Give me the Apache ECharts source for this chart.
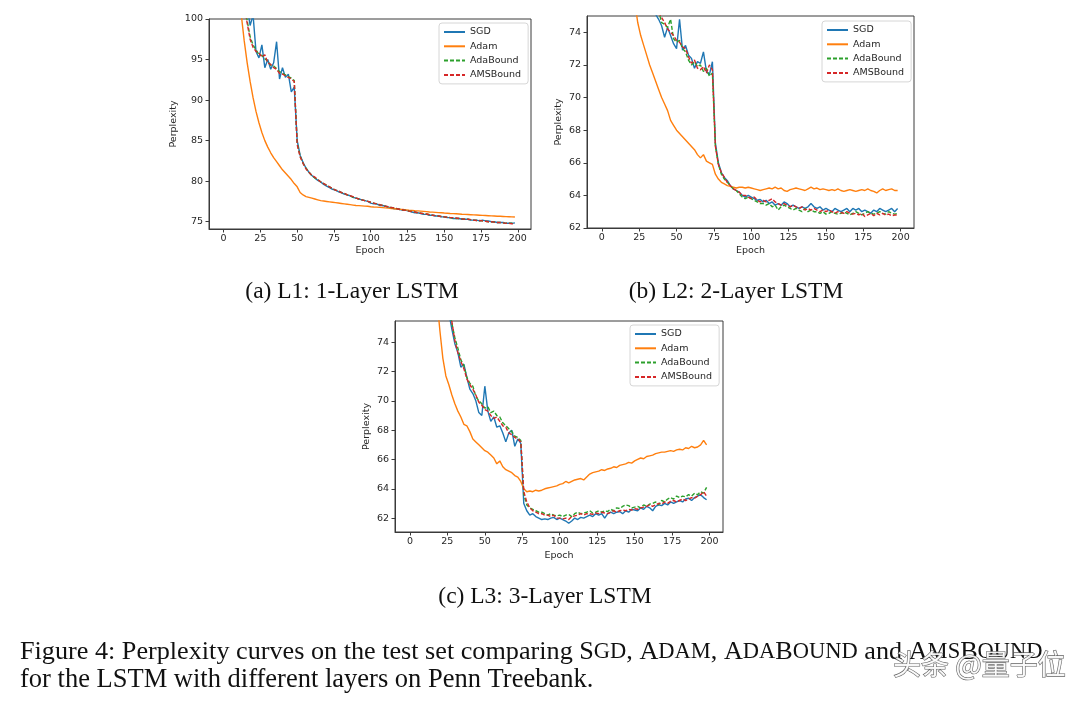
<!DOCTYPE html>
<html><head><meta charset="utf-8">
<script src="https://cdn.jsdelivr.net/npm/echarts@6/dist/echarts.min.js"></script>
<style>html,body{margin:0;padding:0;background:#fff}#c{width:1080px;height:706px}</style>
</head><body><div id="c"></div>
<script>
// ---------- DATA ----------
const epochs = [0,2,4,6,8,10,12,14,16,18,20,22,24,26,28,30,32,34,36,38,40,42,44,46,48,50,52,54,56,58,60,62,64,66,68,70,72,74,76,78,80,82,84,86,88,90,92,94,96,98,100,102,104,106,108,110,112,114,116,118,120,122,124,126,128,130,132,134,136,138,140,142,144,146,148,150,152,154,156,158,160,162,164,166,168,170,172,174,176,178,180,182,184,186,188,190,192,194,196,198];
const seriesNames = ['SGD','Adam','AdaBound','AMSBound'];
const xTicks = [0,25,50,75,100,125,150,175,200];
const yTicks1 = [75,80,85,90,95,100];
const yTicks2 = [62,64,66,68,70,72,74];
const yTicks3 = [62,64,66,68,70,72,74];
const subCaptions = ['(a) L1: 1-Layer LSTM','(b) L2: 2-Layer LSTM','(c) L3: 3-Layer LSTM'];

// L1: 1-layer LSTM
const sgd1 = [180,160,145,132,122,115,109,104,101.5,99.2,
 100.5,96.0,95.2,96.8,94.0,95.0,93.8,94.6,97.2,92.6,
 94.0,92.8,93.2,91.0,91.6,85.0,83.2,82.3,81.6,81.1,
 80.7,80.4,80.1,79.9,79.6,79.4,79.2,79.0,78.9,78.7,
 78.6,78.4,78.3,78.2,78.0,77.9,77.8,77.7,77.6,77.5,
 77.3,77.2,77.2,77.0,77.0,76.9,76.8,76.7,76.6,76.6,
 76.5,76.4,76.4,76.3,76.2,76.1,76.1,76.0,75.9,75.9,
 75.8,75.8,75.7,75.7,75.6,75.6,75.5,75.5,75.4,75.4,
 75.4,75.3,75.3,75.3,75.2,75.2,75.2,75.1,75.2,75.1,
 75.1,75.0,75.0,74.9,74.9,74.9,74.8,74.8,74.8,74.85];
const adam1 = [300,220,170,140,120,108,100.5,97.3,94.6,92.3,
 90.3,88.6,87.2,86.0,85.0,84.2,83.5,82.9,82.4,81.9,
 81.4,81.0,80.6,80.2,79.7,79.3,78.6,78.3,78.1,78.0,
 77.9,77.8,77.7,77.6,77.55,77.5,77.45,77.4,77.35,77.3,
 77.25,77.2,77.15,77.1,77.05,77.0,76.98,76.95,76.92,76.9,
 76.85,76.82,76.8,76.77,76.74,76.7,76.67,76.63,76.6,76.56,
 76.52,76.5,76.46,76.42,76.4,76.36,76.33,76.3,76.27,76.24,
 76.2,76.18,76.15,76.12,76.1,76.07,76.05,76.02,76.0,75.98,
 75.95,75.92,75.9,75.88,75.86,75.84,75.82,75.8,75.78,75.76,
 75.74,75.72,75.7,75.68,75.67,75.65,75.63,75.62,75.6,75.58];
const adab1 = [175,155,140,128,118,111,106,102,99.8,97.8,
 96.8,96.2,95.6,95.5,95.1,94.8,94.3,94.2,93.9,93.5,
 93.3,93.1,92.9,92.7,92.4,84.7,83.1,82.2,81.6,81.1,
 80.7,80.4,80.2,79.9,79.7,79.5,79.3,79.1,78.9,78.8,
 78.6,78.5,78.3,78.2,78.0,77.9,77.8,77.7,77.6,77.5,
 77.4,77.3,77.2,77.1,77.0,76.9,76.8,76.75,76.7,76.6,
 76.5,76.45,76.4,76.3,76.25,76.2,76.1,76.05,76.0,75.95,
 75.85,75.8,75.75,75.7,75.65,75.6,75.55,75.5,75.45,75.4,
 75.4,75.35,75.3,75.3,75.25,75.2,75.15,75.1,75.1,75.05,
 75.0,75.0,74.95,74.9,74.9,74.85,74.8,74.8,74.8,74.75];
const ams1 = [170,150,138,126,117,110,105,101.5,99.5,97.5,
 96.5,96.0,95.8,95.3,95.6,94.6,94.4,94.0,93.8,93.3,
 93.2,93.0,92.8,92.6,92.3,84.5,83.0,82.2,81.5,81.1,
 80.7,80.5,80.2,79.9,79.7,79.5,79.3,79.1,78.9,78.8,
 78.6,78.5,78.3,78.2,78.1,77.9,77.8,77.7,77.6,77.5,
 77.4,77.3,77.2,77.1,77.0,76.9,76.85,76.75,76.7,76.6,
 76.5,76.45,76.4,76.3,76.25,76.2,76.1,76.05,76.0,75.95,
 75.85,75.8,75.75,75.7,75.65,75.6,75.55,75.5,75.5,75.45,
 75.4,75.35,75.3,75.3,75.25,75.2,75.15,75.15,75.1,75.05,
 75.0,75.0,74.95,74.9,74.9,74.85,74.8,74.8,74.75,74.8];

// L2: 2-layer LSTM
const sgd2 = [160,140,125,112,104,98,93,89,86,83.5,
 81.5,80,78.8,77.8,77,76.4,75.9,75.5,75.1,74.8,
 74.4,73.7,74.3,73.8,73.3,73.0,74.8,72.9,73.2,72.6,
 72.4,71.8,72.2,72.1,72.8,71.6,71.4,72.2,67.2,66.0,
 65.4,65.1,64.9,64.6,64.4,64.3,64.2,64.0,63.9,64.0,
 63.9,63.8,63.7,63.75,63.6,63.7,63.5,63.6,63.4,63.5,
 63.4,63.6,63.5,63.3,63.4,63.3,63.2,63.3,63.2,63.3,
 63.5,63.3,63.2,63.3,63.1,63.2,63.1,63.0,63.2,63.1,
 63.0,63.1,63.2,63.0,63.2,63.1,63.2,63.0,63.1,63.0,
 62.9,63.1,63.0,63.2,63.1,63.0,63.1,63.2,63.0,63.2];
const adam2 = [200,150,125,110,100,93,88,84,81,79,
 77.3,75.9,74.6,73.8,73.2,72.6,72.0,71.5,71.0,70.5,
 70.0,69.6,69.2,68.6,68.3,68.0,67.8,67.6,67.4,67.2,
 67.0,66.8,66.5,66.3,66.5,66.1,66.0,65.9,65.3,65.0,
 64.8,64.7,64.6,64.55,64.5,64.45,64.5,64.5,64.45,64.5,
 64.45,64.4,64.35,64.3,64.35,64.4,64.45,64.4,64.5,64.4,
 64.45,64.3,64.25,64.35,64.4,64.45,64.4,64.35,64.3,64.4,
 64.5,64.4,64.45,64.35,64.4,64.35,64.3,64.35,64.3,64.4,
 64.3,64.25,64.3,64.35,64.3,64.25,64.3,64.35,64.3,64.4,
 64.3,64.25,64.15,64.3,64.4,64.3,64.35,64.4,64.3,64.3];
const adab2 = [170,145,128,115,106,99,94,90,87,84.5,
 82.5,81,79.7,78.6,77.7,77,76.4,75.9,75.5,75.3,
 74.6,74.5,74.3,74.8,73.6,73.4,73.5,73.0,72.8,72.3,
 72.0,72.2,71.9,72.0,71.6,71.8,71.3,71.5,67.0,65.9,
 65.3,65.0,64.8,64.6,64.4,64.3,64.1,63.9,63.8,63.9,
 63.8,63.7,63.6,63.5,63.5,63.4,63.5,63.3,63.4,63.1,
 63.3,63.4,63.3,63.2,63.1,63.2,63.1,63.0,63.2,63.0,
 63.1,63.0,63.0,62.9,63.0,62.85,62.9,63.0,62.9,62.85,
 62.9,63.0,62.9,62.8,62.9,63.0,62.9,62.8,62.9,63.0,
 62.9,62.85,62.9,63.0,62.9,62.85,63.0,62.9,62.85,62.9];
const ams2 = [168,144,127,114,105,98.5,93.5,89.5,86.5,84,
 82,80.6,79.3,78.3,77.4,76.7,76.1,75.7,75.4,75.2,
 74.9,74.6,74.2,74.0,73.8,73.5,73.4,73.1,73.0,72.5,
 72.1,72.3,71.8,71.7,71.9,71.5,72.0,71.7,67.0,65.9,
 65.4,65.1,64.8,64.6,64.4,64.3,64.2,64.0,64.0,63.9,
 63.8,63.9,63.7,63.6,63.7,63.6,63.7,63.8,63.6,63.5,
 63.4,63.5,63.4,63.3,63.4,63.3,63.2,63.3,63.1,63.2,
 63.1,63.2,63.1,63.0,63.1,63.0,63.1,63.0,62.9,63.0,
 62.95,62.9,63.0,62.9,62.85,62.9,62.8,62.9,62.7,62.8,
 62.9,62.75,62.9,62.8,62.9,62.8,62.85,62.75,62.8,62.8];

// L3: 3-layer LSTM
const sgd3 = [160,140,125,112,104,97,92,88,84.5,82,
 80,78.5,77,76,74.9,73.9,73.3,72.3,72.5,71.6,
 70.8,70.5,70.0,69.2,69.0,71.0,69.3,68.6,68.9,68.2,
 68.3,67.8,67.2,67.8,68.0,66.9,67.4,67.1,63.0,62.5,
 62.2,62.3,62.1,62.0,61.9,61.95,61.9,62.0,62.05,61.9,
 62.0,61.9,61.8,61.65,61.8,62.0,61.9,62.05,62.0,62.1,
 62.2,62.1,62.3,62.2,62.3,62.0,62.3,62.4,62.3,62.4,
 62.45,62.3,62.5,62.4,62.6,62.55,62.5,62.7,62.6,62.8,
 62.7,62.5,62.8,62.9,62.85,63.0,62.9,63.1,63.0,63.1,
 63.2,63.1,63.3,63.35,63.2,63.4,63.5,63.6,63.4,63.25];
const adam3 = [200,160,135,118,106,97,90,85,80.5,77,
 74.8,72.9,71.7,71.1,70.4,69.8,69.3,68.9,68.4,68.3,
 67.9,67.4,67.2,67.0,66.8,66.6,66.5,66.3,66.1,65.7,
 65.9,65.5,65.3,65.2,65.1,64.9,64.8,64.5,64.0,63.8,
 63.85,63.8,63.9,63.85,63.9,64.0,64.05,64.1,64.15,64.2,
 64.3,64.35,64.5,64.4,64.5,64.6,64.65,64.7,64.6,64.8,
 65.0,65.1,65.15,65.2,65.3,65.25,65.35,65.4,65.5,65.45,
 65.6,65.65,65.7,65.8,65.75,65.9,66.0,66.1,66.05,66.2,
 66.25,66.3,66.4,66.45,66.5,66.5,66.55,66.6,66.55,66.65,
 66.7,66.65,66.8,66.75,66.9,66.8,66.85,67.0,67.3,67.0];
const adab3 = [155,138,122,110,102,95,90,86,83,81,
 79.5,78.3,77.4,76.5,75.3,74.3,73.6,72.8,72.4,71.6,
 71.2,71.0,70.3,70.0,69.8,69.5,69.6,69.2,69.3,69.0,
 68.9,68.5,68.3,68.1,67.9,67.6,67.5,67.3,63.6,62.9,
 62.7,62.6,62.5,62.4,62.4,62.3,62.2,62.3,62.2,62.15,
 62.2,62.1,62.2,62.25,62.1,62.3,62.4,62.3,62.35,62.4,
 62.5,62.35,62.4,62.5,62.4,62.5,62.45,62.6,62.5,62.7,
 62.65,62.8,62.9,62.85,62.7,62.75,62.8,62.7,62.9,62.8,
 62.95,63.0,63.1,62.9,63.2,63.1,63.3,63.4,63.3,63.5,
 63.4,63.5,63.45,63.6,63.5,63.7,63.6,63.8,63.7,64.1];
const ams3 = [156,139,123,111,103,96,91,87,84,81.8,
 80,78.6,77.6,76.7,75.4,74.1,73.3,72.7,72.2,71.5,
 71.1,70.8,70.4,69.9,69.7,69.4,69.3,69.0,68.8,68.9,
 68.6,68.3,68.2,67.8,67.7,67.5,67.4,67.2,63.8,63.1,
 62.7,62.5,62.4,62.3,62.3,62.2,62.2,62.1,62.2,62.0,
 62.0,61.95,62.0,61.9,62.1,62.15,62.2,62.3,62.2,62.3,
 62.3,62.25,62.35,62.3,62.4,62.35,62.3,62.4,62.5,62.4,
 62.5,62.55,62.5,62.6,62.55,62.65,62.6,62.7,62.75,62.8,
 62.9,62.8,62.9,63.0,62.95,63.1,63.0,63.15,63.2,63.1,
 63.2,63.3,63.2,63.3,63.4,63.35,63.5,63.6,63.8,63.5];

// ---------- STYLE / LAYOUT ----------
const FONT = 'DejaVu Sans';
const AX = '#3a3a3a';
const TXT = '#262626';
const COLORS = ['#1f77b4','#ff7f0e','#2ca02c','#d62728'];
const DASH = [null, null, [4,2], [4,2]];

const grids = [
  {left:209, top:19, width:322, height:210},
  {left:587, top:16, width:327, height:212},
  {left:395, top:321, width:328, height:211}
];
const yRanges = [[74.1,100],[62,75],[61.05,75.45]];
const yTickSets = [yTicks1, yTicks2, yTicks3];
const yNameGaps = [30, 23, 23];
const xNameGaps = [17, 18, 19];
const legendPos = [{left:439, top:23},{left:822, top:21},{left:630, top:325}];
const dataSets = [[sgd1,adam1,adab1,ams1],[sgd2,adam2,adab2,ams2],[sgd3,adam3,adab3,ams3]];

function pairs(ys){ return epochs.map((e,i)=>[e, ys[i]]); }

const xAxes = [], yAxes = [], series = [], legends = [];
grids.forEach((g, k) => {
  xAxes.push({
    type:'value', gridIndex:k, min:-9.95, max:208.95,
    name:'Epoch', nameLocation:'middle', nameGap:xNameGaps[k],
    nameTextStyle:{fontFamily:FONT, fontSize:9.5, color:TXT},
    axisLine:{show:true, onZero:false, lineStyle:{color:AX, width:1}},
    axisTick:{show:true, length:3.5, lineStyle:{color:AX}, customValues:xTicks},
    axisLabel:{fontFamily:FONT, fontSize:9.5, color:TXT, margin:5, customValues:xTicks},
    splitLine:{show:false}
  });
  yAxes.push({
    type:'value', gridIndex:k, min:yRanges[k][0], max:yRanges[k][1],
    name:'Perplexity', nameLocation:'middle', nameGap:yNameGaps[k], nameRotate:90,
    nameTextStyle:{fontFamily:FONT, fontSize:9.5, color:TXT},
    axisLine:{show:true, onZero:false, lineStyle:{color:AX, width:1}},
    axisTick:{show:true, length:3.5, lineStyle:{color:AX}, customValues:yTickSets[k]},
    axisLabel:{fontFamily:FONT, fontSize:9.5, color:TXT, margin:6, customValues:yTickSets[k]},
    splitLine:{show:false}
  });
  seriesNames.forEach((nm, j) => {
    series.push({
      type:'line', name:nm, xAxisIndex:k, yAxisIndex:k,
      data:pairs(dataSets[k][j]), symbol:'none', showSymbol:false, clip:true,
      lineStyle:{color:COLORS[j], width:1.4, type: DASH[j] || 'solid'},
      itemStyle:{color:COLORS[j]}
    });
  });
  legends.push({
    data:seriesNames, orient:'vertical', left:legendPos[k].left, top:legendPos[k].top,
    itemWidth:21, itemHeight:12, itemGap:2.3, padding:[3,7,3,4],
    borderColor:'#d6d6d6', borderWidth:1, borderRadius:3, backgroundColor:'#fff',
    itemStyle:{opacity:0},
    textStyle:{fontFamily:FONT, fontSize:9.5, color:TXT, lineHeight:12},
    selectedMode:false
  });
});

const serif = 'Liberation Serif';
function subCap(txt, x, y){
  return {type:'text', x:x, y:y, style:{text:txt, font:'23.5px "Liberation Serif"', fill:'#111', align:'center', verticalAlign:'middle'}};
}
const graphics = [
  subCap(subCaptions[0], 352, 292),
  subCap(subCaptions[1], 736, 292),
  subCap(subCaptions[2], 545, 597),
  {type:'text', x:20, y:652, style:{
    text:'{n|Figure 4: Perplexity curves on the test set comparing S}{s|GD}{n|, A}{s|DAM}{n|, A}{s|DA}{n|B}{s|OUND}{n| and A}{s|MS}{n|B}{s|OUND}',
    rich:{n:{fontFamily:serif, fontSize:26.2, fill:'#111'}, s:{fontFamily:serif, fontSize:22.5, fill:'#111'}},
    verticalAlign:'middle', align:'left'}},
  {type:'text', x:20, y:680, style:{text:'for the LSTM with different layers on Penn Treebank.', font:'26.5px "Liberation Serif"', fill:'#111', align:'left', verticalAlign:'middle'}},
  {type:'text', x:893, y:664, style:{text:'头条 @量子位', font:'28px "Noto Sans CJK SC"', fill:'rgba(255,255,255,0.9)', stroke:'rgba(70,70,70,0.85)', lineWidth:1.2, align:'left', verticalAlign:'middle'}}
];

const chart = echarts.init(document.getElementById('c'), null, {renderer:'canvas'});
chart.setOption({
  animation:false,
  backgroundColor:'#fff',
  grid: grids.map(g => Object.assign({show:true, borderColor:AX, borderWidth:1, backgroundColor:'transparent'}, g)),
  xAxis:xAxes, yAxis:yAxes, series:series, legend:legends, graphic:graphics
});
</script></body></html>
